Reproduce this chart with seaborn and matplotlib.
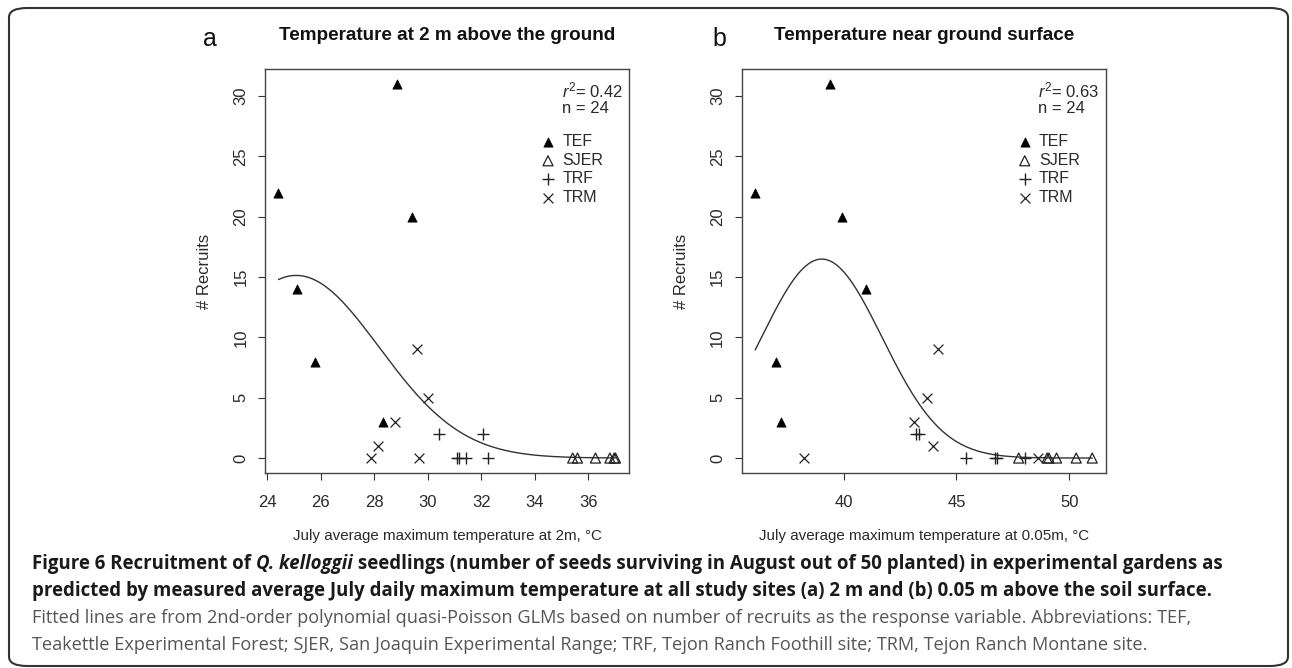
import numpy as np
import pandas as pd
import matplotlib
matplotlib.use("Agg")
import matplotlib.pyplot as plt
import seaborn as sns
from matplotlib.patches import FancyBboxPatch

# values: July max temperature (deg C) at 2 m / 0.05 m and recruits
sites = ["TEF", "SJER", "TRF", "TRM"]
tef_t2m = [24.43, 25.12, 25.80, 28.35, 28.87, 29.41]
tef_t005 = [36.08, 40.99, 37.00, 37.24, 39.38, 39.93]
tef_recruits = [22, 14, 8, 3, 31, 20]
sjer_t2m = [35.42, 35.60, 36.27, 36.81, 36.97, 37.02]
sjer_t005 = [47.76, 49.02, 49.10, 49.44, 50.31, 51.02]
sjer_recruits = [0, 0, 0, 0, 0, 0]
trf_t2m = [30.44, 32.08, 31.10, 31.17, 31.42, 32.27]
trf_t005 = [43.23, 43.35, 45.44, 46.70, 46.82, 48.06]
trf_recruits = [2, 2, 0, 0, 0, 0]
trm_t2m = [29.60, 30.00, 28.79, 28.14, 27.89, 29.68]
trm_t005 = [44.19, 43.70, 43.11, 43.97, 38.23, 48.62]
trm_recruits = [9, 5, 3, 1, 0, 0]

r2_values = ["0.42", "0.63"]
titles = ["Temperature at 2 m above the ground", "Temperature near ground surface"]
xlabels = ["July average maximum temperature at 2m, \u00b0C",
           "July average maximum temperature at 0.05m, \u00b0C"]
xticks_a = [24, 26, 28, 30, 32, 34, 36]
xticks_b = [40, 45, 50]
yticks = [0, 5, 10, 15, 20, 25, 30]

df = pd.DataFrame({
    "site": ["TEF"] * 6 + ["SJER"] * 6 + ["TRF"] * 6 + ["TRM"] * 6,
    "t2m": tef_t2m + sjer_t2m + trf_t2m + trm_t2m,
    "t005": tef_t005 + sjer_t005 + trf_t005 + trm_t005,
    "recruits": tef_recruits + sjer_recruits + trf_recruits + trm_recruits,
})

marker_style = {
    "TEF": dict(marker="^", color="black", edgecolor="black", s=44),
    "SJER": dict(marker="^", facecolor="none", edgecolor="#222222", s=52, linewidth=0.9),
    "TRF": dict(marker="+", color="#222222", s=75, linewidth=1.0),
    "TRM": dict(marker="x", color="#222222", s=50, linewidth=0.9),
}


def quasi_poisson_quad(x, y, grid):
    # 2nd-order polynomial log-link GLM, fitted by IRLS
    m, s = x.mean(), x.std()
    X = np.column_stack([np.ones_like(x), (x - m) / s, ((x - m) / s) ** 2])
    G = np.column_stack([np.ones_like(grid), (grid - m) / s, ((grid - m) / s) ** 2])
    beta = np.array([np.log(y.mean()), 0.0, 0.0])
    for _ in range(200):
        eta = X @ beta
        mu = np.exp(eta)
        z = eta + (y - mu) / mu
        beta = np.linalg.solve(X.T @ (mu[:, None] * X), X.T @ (mu * z))
    return np.exp(G @ beta)


sns.set_style("ticks")
plt.rcParams["font.family"] = ["Liberation Sans", "DejaVu Sans"]
plt.rcParams["mathtext.fontset"] = "custom"
plt.rcParams["mathtext.rm"] = "Liberation Sans"
plt.rcParams["mathtext.it"] = "Liberation Sans:italic"

W, H = 1292, 668
fig = plt.figure(figsize=(W / 100, H / 100), dpi=100)
ax1 = fig.add_axes([265 / W, 1 - 473 / H, 364 / W, 404 / H])
ax2 = fig.add_axes([741.7 / W, 1 - 473 / H, 364 / W, 404 / H])

panels = [
    (ax1, "t2m", "a", -0.151, xticks_a),
    (ax2, "t005", "b", -0.060, xticks_b),
]

ink = "#2a2a2a"
for i, (ax, col, letter, letter_x, xt) in enumerate(panels):
    for site in sites:
        sub = df[df["site"] == site]
        sns.scatterplot(data=sub, x=col, y="recruits", ax=ax, label=site,
                        zorder=3, **marker_style[site])

    x = df[col].to_numpy(float)
    y = df["recruits"].to_numpy(float)
    grid = np.linspace(x.min(), x.max(), 200)
    sns.lineplot(x=grid, y=quasi_poisson_quad(x, y, grid), ax=ax,
                 color="#333333", linewidth=1.0, zorder=2)

    # R-style 4% padding
    xr = x.max() - x.min()
    ax.set_xlim(x.min() - 0.04 * xr, x.max() + 0.04 * xr)
    ax.set_ylim(-0.04 * y.max(), 1.04 * y.max())
    ax.set_xticks(xt)
    ax.set_yticks(yticks)
    ax.tick_params(axis="both", direction="out", length=5, width=0.8,
                   color="#333333", labelcolor=ink, labelsize=12)
    ax.tick_params(axis="x", pad=11)
    ax.tick_params(axis="y", pad=7)
    for lab in ax.get_yticklabels():
        lab.set_rotation(90)
        lab.set_va("center")
    for sp in ax.spines.values():
        sp.set_visible(True)
        sp.set_color("#444444")
        sp.set_linewidth(1.0)

    ax.set_xlabel(xlabels[i], fontsize=10.9, color=ink)
    ax.xaxis.set_label_coords(0.5, -0.138)
    ax.set_ylabel("# Recruits", fontsize=12, color=ink)
    ax.yaxis.set_label_coords(-0.146, 0.5)

    ax.text(0.5, 1.072, titles[i], transform=ax.transAxes, ha="center",
            va="baseline", fontsize=13.6, fontweight="bold", color="#111111")
    ax.text(letter_x, 1.058, letter, transform=ax.transAxes, ha="center",
            va="baseline", fontsize=18, color="#111111")

    ax.text(0.815, 0.930, r"$r^2$= " + r2_values[i], transform=ax.transAxes,
            ha="left", va="baseline", fontsize=12, color=ink)
    ax.text(0.815, 0.890, "n = 24", transform=ax.transAxes,
            ha="left", va="baseline", fontsize=12, color=ink)

    leg = ax.legend(loc="upper left", bbox_to_anchor=(0.76, 0.838), frameon=False,
                    fontsize=11.5, handlelength=0.8, handletextpad=0.5,
                    labelspacing=0.22, borderpad=0, borderaxespad=0, scatterpoints=1)
    for t in leg.get_texts():
        t.set_color(ink)

# caption
cap_x = 32 / W
line_y = [1 - 564 / H, 1 - 591 / H, 1 - 618 / H, 1 - 645 / H]
bold_size = 13.4
light_size = 13.1
t0 = fig.text(cap_x, line_y[0], "Figure 6 Recruitment of ", family="Open Sans",
              fontweight="bold", fontsize=bold_size, va="center", color="#1a1a1a")
t1 = ax1.annotate("Q. kelloggii", xy=(1, 0.5), xycoords=t0, va="center",
                  family="Open Sans", fontweight="bold", fontstyle="italic",
                  fontsize=bold_size, color="#1a1a1a")
ax1.annotate(" seedlings (number of seeds surviving in August out of 50 planted) "
             "in experimental gardens as", xy=(1, 0.5), xycoords=t1, va="center",
             family="Open Sans", fontweight="bold", fontsize=bold_size, color="#1a1a1a")
fig.text(cap_x, line_y[1], "predicted by measured average July daily maximum temperature "
         "at all study sites (a) 2 m and (b) 0.05 m above the soil surface.",
         family="Open Sans", fontweight="bold", fontsize=bold_size, va="center",
         color="#1a1a1a")
fig.text(cap_x, line_y[2], "Fitted lines are from 2nd-order polynomial quasi-Poisson GLMs "
         "based on number of recruits as the response variable. Abbreviations: TEF,",
         family="Open Sans", fontsize=light_size, va="center", color="#555555")
fig.text(cap_x, line_y[3], "Teakettle Experimental Forest; SJER, San Joaquin Experimental "
         "Range; TRF, Tejon Ranch Foothill site; TRM, Tejon Ranch Montane site.",
         family="Open Sans", fontsize=light_size, va="center", color="#555555")

# rounded frame around the whole figure
fig.patches.append(FancyBboxPatch((9 / W, 2 / H), (1279) / W, (658) / H,
                                  boxstyle="round,pad=0,rounding_size=0.014",
                                  transform=fig.transFigure, fill=False,
                                  edgecolor="#333333", linewidth=1.5))

fig.savefig("out.png", dpi=100)
